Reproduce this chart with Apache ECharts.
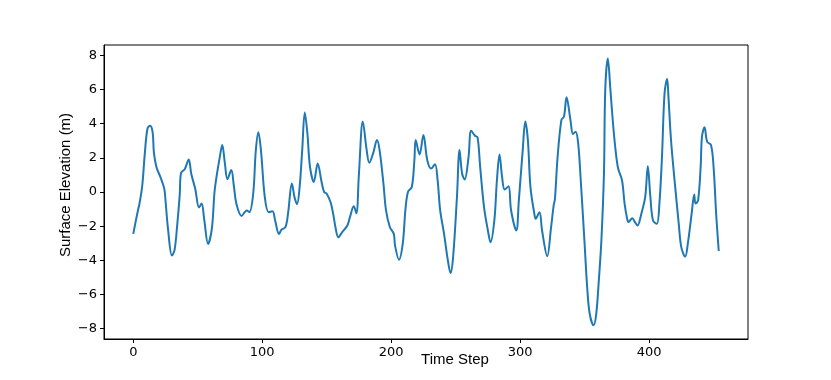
<!DOCTYPE html>
<html>
<head>
<meta charset="utf-8">
<script src="https://cdn.jsdelivr.net/npm/echarts@6/dist/echarts.min.js"></script>
<style>
  html, body { margin: 0; padding: 0; background: #fff; }
  #chart { width: 831px; height: 380px; }
</style>
</head>
<body>
<div id="chart"></div>
<script>
// time steps and surface elevation (m)
const timeSteps = [0, 3, 5, 7, 9, 11, 13, 15, 16, 18, 21, 24, 25, 27, 30, 32, 34, 36, 37, 40,
  43, 45, 48, 51, 53, 55, 58, 61, 63, 65, 67, 69, 71, 73, 76, 78, 80, 84, 88, 90,
  93, 95, 97, 99, 102, 105, 108, 110, 113, 115, 118, 120, 123, 125, 127, 129, 131, 133, 135, 137,
  140, 143, 146, 148, 150, 153, 155, 157, 159, 162, 166, 168, 171, 173, 175, 178, 181, 183, 186, 189,
  191, 194, 196, 199, 202, 203, 206, 209, 211, 213, 216, 218, 219, 222, 225, 228, 231, 234, 236, 238,
  241, 244, 246, 248, 251, 253, 255, 257, 260, 262, 265, 267, 269, 272, 275, 277, 280, 282, 284, 286,
  288, 291, 293, 297, 299, 302, 304, 306, 308, 311, 312, 315, 317, 321, 324, 326, 327, 329, 332, 334,
  336, 339, 341, 343, 345, 347, 350, 352, 354, 357, 359, 361, 363, 365, 366, 368, 370, 372, 374, 376,
  379, 381, 383, 384, 387, 389, 391, 394, 397, 399, 401, 403, 406, 408, 410, 412, 414, 415, 417, 420,
  423, 425, 428, 430, 433, 435, 436, 438, 440, 441, 443, 445, 448, 450, 452, 454];
const elevation = [-2.45, -1.3, -0.6, 0.4, 2.3, 3.7, 3.88, 3.5, 2.3, 1.45, 0.88, 0.2, -0.5, -2.2, -3.72, -3.4, -2.0, -0.2, 1.1, 1.35,
  1.9, 1.05, 0.2, -0.9, -0.68, -1.6, -3.04, -2.1, 0.0, 1.1, 2.0, 2.75, 1.7, 0.75, 1.28, 0.35, -0.7, -1.4, -1.08, -1.18,
  -0.1, 2.4, 3.5, 2.45, -0.3, -1.18, -1.12, -1.66, -2.45, -2.2, -2.06, -1.27, 0.49, -0.29, -0.72, 0.29, 2.45, 4.65, 3.45, 1.5,
  0.59, 1.67, 0.6, 0.0, -0.1, -0.6, -1.27, -2.15, -2.65, -2.35, -1.96, -1.47, -0.84, -1.24, 1.08, 4.12, 2.45, 1.71, 2.26, 3.04,
  2.45, 0.49, -1.08, -2.06, -2.45, -3.14, -3.96, -3.0, -1.08, 0.0, 0.29, 1.86, 3.04, 2.2, 3.33, 1.86, 1.37, 1.63, 0.69, -1.08,
  -2.45, -4.02, -4.74, -3.82, -0.29, 2.45, 1.08, 0.73, 2.06, 3.59, 3.29, 3.2, 1.47, -0.88, -2.25, -2.94, -1.66, 0.69, 2.2, 0.88,
  0.14, 0.34, -1.08, -2.25, -0.49, 2.45, 4.12, 3.04, 0.29, -1.27, -1.57, -1.18, -2.25, -3.76, -2.06, -0.78, -0.4, 2.0, 4.22, 4.41,
  5.55, 4.22, 3.39, 3.53, 2.85, 0.69, -3.04, -5.59, -7.15, -7.8, -7.15, -5.19, -2.84, 1.08, 5.98, 7.81, 5.98, 4.02, 2.45, 1.37,
  0.69, -0.68, -1.57, -1.76, -1.53, -1.76, -1.96, -1.27, -0.29, 1.51, -0.29, -1.66, -1.86, -0.68, 2.06, 5.79, 6.61, 5.59, 3.04, 0.49,
  -1.86, -3.24, -3.78, -3.04, -1.27, -0.14, -0.68, -0.49, 1.5, 3.24, 3.79, 2.94, 2.75, 1.47, -1.27, -3.45];

const xTicks = [0, 100, 200, 300, 400];
const yTicks = [-8, -6, -4, -2, 0, 2, 4, 6, 8];

const chart = echarts.init(document.getElementById('chart'));
const tickFont = { color: '#000', fontSize: 13, fontFamily: 'DejaVu Sans' };
const minus = v => String(v).replace('-', '\u2212');

chart.setOption({
  animation: false,
  grid: {
    left: 104, right: 83, top: 45, bottom: 41,
    show: true, borderColor: '#000', borderWidth: 1, backgroundColor: '#fff'
  },
  xAxis: {
    type: 'value',
    min: -22.7, max: 476.7,
    splitLine: { show: false },
    axisLine: { show: true, onZero: false, lineStyle: { color: '#000' } },
    axisTick: { show: true, length: 4, customValues: xTicks, lineStyle: { color: '#000' } },
    axisLabel: Object.assign({ customValues: xTicks, margin: 7, formatter: minus }, tickFont)
  },
  yAxis: {
    type: 'value',
    min: -8.6, max: 8.6,
    splitLine: { show: false },
    axisLine: { show: true, onZero: false, lineStyle: { color: '#000' } },
    axisTick: { show: true, length: 4, customValues: yTicks, lineStyle: { color: '#000' } },
    axisLabel: Object.assign({ customValues: yTicks, margin: 7, formatter: minus }, tickFont)
  },
  graphic: [
    {
      type: 'text', x: 455, y: 360, rotation: 0,
      style: { text: 'Time Step', fill: '#000', font: '15px "Liberation Sans"', align: 'center', verticalAlign: 'middle' }
    },
    {
      type: 'text', x: 66, y: 185, rotation: Math.PI / 2,
      style: { text: 'Surface Elevation (m)', fill: '#000', font: '15px "Liberation Sans"', align: 'center', verticalAlign: 'middle' }
    }
  ],
  series: [{
    type: 'line',
    data: timeSteps.map((t, i) => [t, elevation[i]]),
    smooth: 0.35,
    showSymbol: false,
    lineStyle: { color: '#1f77b4', width: 2 }
  }]
});
</script>
</body>
</html>
